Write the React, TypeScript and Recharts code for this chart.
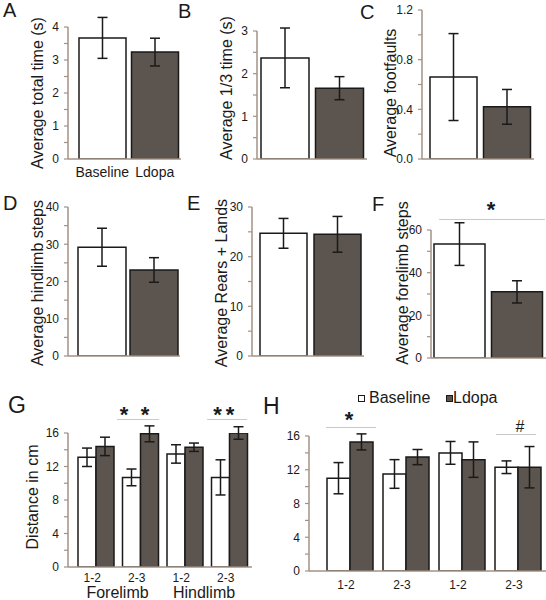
import React from 'react';
import { BarChart, Bar, XAxis, YAxis, ErrorBar, Cell } from 'recharts';

const FONT = '"Liberation Sans", Arial, Helvetica, sans-serif';
const AXIS = '#a39286';
const DARK = '#5c544e';
const INK = '#1a1a1a';
const SIG = '#c9c9c9';

// ---------- data ----------
const conditions = ['Baseline', 'Ldopa'];
const conditionFills = ['#ffffff', DARK];

const totalTime = [3.67, 3.24];
const totalTimeErr = [0.62, 0.42];

const thirdTime = [2.37, 1.66];
const thirdTimeErr = [0.7, 0.27];

const footfaults = [0.66, 0.42];
const footfaultsErr = [0.35, 0.14];

const hindlimbSteps = [29.2, 23.1];
const hindlimbStepsErr = [5.1, 3.3];

const rearsLands = [24.7, 24.5];
const rearsLandsErr = [3.0, 3.6];

const forelimbSteps = [53.4, 31.0];
const forelimbStepsErr = [10.0, 5.2];

const intervals = ['1-2', '2-3', '1-2', '2-3'];
const limbGroups = ['Forelimb', 'Forelimb', 'Hindlimb', 'Hindlimb'];

const gBaseline = [13.1, 10.7, 13.5, 10.7];
const gBaselineErr = [1.1, 1.0, 1.1, 2.1];
const gLdopa = [14.4, 15.9, 14.3, 16.0];
const gLdopaErr = [1.1, 0.95, 0.5, 0.75];

const hBaseline = [11.0, 11.5, 14.0, 12.3];
const hBaselineErr = [1.85, 1.7, 1.35, 0.75];
const hLdopa = [15.3, 13.5, 13.2, 12.3];
const hLdopaErr = [0.95, 0.9, 2.1, 2.45];

const pairData = (vals: number[], errs: number[]) =>
  conditions.map((name, i) => ({ name, value: vals[i], err: errs[i] }));

const groupData = (b: number[], be: number[], l: number[], le: number[]) =>
  intervals.map((iv, i) => ({
    name: `${limbGroups[i]} ${iv}`,
    interval: iv,
    baseline: b[i],
    baselineErr: be[i],
    ldopa: l[i],
    ldopaErr: le[i],
  }));

const range = (max: number, step: number) => {
  const out: number[] = [];
  for (let i = 0; i <= Math.round(max / step); i++) out.push(+(i * step).toFixed(4));
  return out;
};

// ---------- helpers ----------
const YW = 40;
const XH = 25;

type Box = { x: number; y: number; w: number; h: number };

type PanelProps = {
  box: Box;
  axisX: number;
  plotRight: number;
  yTop: number;
  yZero: number;
  padLeft: number;
  max: number;
  minorStep: number;
  majorStep: number;
  decimals?: number;
  data: any[];
  xTick?: any;
  xTickMargin?: number;
  barGap?: number;
  children: React.ReactNode;
};

const makeYTick = (majorStep: number, decimals: number) => (props: any) => {
  const { x, y, payload } = props;
  const v = payload.value;
  const r = v / majorStep;
  if (Math.abs(r - Math.round(r)) > 1e-6) return <g />;
  return (
    <text x={x} y={y} dy="0.36em" textAnchor="end" fontSize={12} fill={INK} fontFamily={FONT}>
      {v.toFixed(decimals)}
    </text>
  );
};

function Panel(p: PanelProps) {
  const margin = {
    left: p.axisX - p.box.x - YW,
    right: p.box.x + p.box.w - p.plotRight,
    top: p.yTop - p.box.y,
    bottom: p.box.y + p.box.h - p.yZero - XH,
  };
  return (
    <div style={{ position: 'absolute', left: p.box.x, top: p.box.y, width: p.box.w, height: p.box.h }}>
      <BarChart width={p.box.w} height={p.box.h} data={p.data} margin={margin} barGap={p.barGap ?? 0}>
        <XAxis
          dataKey="name"
          type="category"
          height={XH}
          padding={{ left: p.padLeft, right: 0 }}
          axisLine={{ stroke: AXIS, strokeWidth: 1.5 }}
          tickLine={false}
          interval={0}
          tickMargin={p.xTickMargin ?? 2}
          tick={p.xTick ?? false}
        />
        <YAxis
          type="number"
          width={YW}
          domain={[0, p.max]}
          allowDataOverflow
          ticks={range(p.max, p.minorStep)}
          interval={0}
          axisLine={{ stroke: AXIS, strokeWidth: 1.5 }}
          tickLine={{ stroke: AXIS, strokeWidth: 1.2 }}
          tickSize={4}
          tickMargin={5}
          tick={makeYTick(p.majorStep, p.decimals ?? 0)}
        />
        {p.children}
      </BarChart>
    </div>
  );
}

const pairBar = (data: any[], barSize: number) => (
  <Bar dataKey="value" barSize={barSize} stroke={INK} strokeWidth={1.5} isAnimationActive={false}>
    {data.map((d, i) => (
      <Cell key={d.name} fill={conditionFills[i]} />
    ))}
    <ErrorBar dataKey="err" width={5} stroke={INK} strokeWidth={1.5} direction="y" />
  </Bar>
);

const groupBars = (barSize: number) => [
  <Bar key="b" dataKey="baseline" name="Baseline" barSize={barSize} fill="#ffffff" stroke={INK} strokeWidth={1.5} isAnimationActive={false}>
    <ErrorBar dataKey="baselineErr" width={5} stroke={INK} strokeWidth={1.5} direction="y" />
  </Bar>,
  <Bar key="l" dataKey="ldopa" name="Ldopa" barSize={barSize} fill={DARK} stroke={INK} strokeWidth={1.5} isAnimationActive={false}>
    <ErrorBar dataKey="ldopaErr" width={5} stroke={INK} strokeWidth={1.5} direction="y" />
  </Bar>,
];

const conditionTick = (props: any) => {
  const { x, y, payload } = props;
  return (
    <text x={x} y={y} dy="0.71em" textAnchor="middle" fontSize={14} fill={INK} fontFamily={FONT}>
      {payload.value}
    </text>
  );
};

const makeIntervalTick = (data: any[]) => (props: any) => {
  const { x, y, index } = props;
  return (
    <text x={x - 4} y={y} dy="0.71em" textAnchor="middle" fontSize={12} fill={INK} fontFamily={FONT}>
      {data[index]?.interval}
    </text>
  );
};

// HTML text helpers (cy = visual centre of capitals)
const T = ({ x, cy, fs, children, anchor = 'middle', weight = 400, k = 0.4885 }: any) => (
  <div
    style={{
      position: 'absolute',
      left: x,
      top: cy - k * fs,
      fontSize: fs,
      lineHeight: 1,
      fontWeight: weight,
      whiteSpace: 'nowrap',
      color: INK,
      transform: anchor === 'middle' ? 'translateX(-50%)' : anchor === 'end' ? 'translateX(-100%)' : undefined,
    }}
  >
    {children}
  </div>
);

const VLabel = ({ cx, cy, children }: any) => (
  <div
    style={{
      position: 'absolute',
      left: cx,
      top: cy,
      fontSize: 16,
      lineHeight: 1,
      whiteSpace: 'nowrap',
      color: INK,
      transform: 'translate(-50%, -50%) rotate(-90deg)',
    }}
  >
    {children}
  </div>
);

const SigLine = ({ x1, x2, y }: any) => (
  <div style={{ position: 'absolute', left: x1, top: y, width: x2 - x1, height: 1, background: SIG }} />
);

const Star = ({ x, cy }: any) => (
  <T x={x} cy={cy} fs={22} weight={700} k={0.2665}>
    *
  </T>
);

export default function App() {
  const dA = pairData(totalTime, totalTimeErr);
  const dB = pairData(thirdTime, thirdTimeErr);
  const dC = pairData(footfaults, footfaultsErr);
  const dD = pairData(hindlimbSteps, hindlimbStepsErr);
  const dE = pairData(rearsLands, rearsLandsErr);
  const dF = pairData(forelimbSteps, forelimbStepsErr);
  const dG = groupData(gBaseline, gBaselineErr, gLdopa, gLdopaErr);
  const dH = groupData(hBaseline, hBaselineErr, hLdopa, hLdopaErr);

  return (
    <div
      style={{
        position: 'absolute',
        left: 0,
        top: 0,
        width: 546,
        height: 600,
        overflow: 'hidden',
        background: '#ffffff',
        fontFamily: FONT,
      }}
    >
      <Panel box={{ x: 0, y: 0, w: 190, h: 195 }} axisX={68} plotRight={181} yTop={27} yZero={159} padLeft={8}
        max={4} minorStep={0.5} majorStep={1} data={dA} xTick={conditionTick} xTickMargin={2}>
        {pairBar(dA, 47)}
      </Panel>
      <Panel box={{ x: 185, y: 0, w: 185, h: 195 }} axisX={257} plotRight={367} yTop={31} yZero={159} padLeft={1}
        max={3} minorStep={0.5} majorStep={1} data={dB}>
        {pairBar(dB, 48)}
      </Panel>
      <Panel box={{ x: 375, y: 0, w: 171, h: 195 }} axisX={422} plotRight={534} yTop={10} yZero={159} padLeft={5}
        max={1.2} minorStep={0.2} majorStep={0.4} decimals={1} data={dC}>
        {pairBar(dC, 47)}
      </Panel>
      <Panel box={{ x: 0, y: 190, w: 190, h: 200 }} axisX={68} plotRight={180} yTop={207} yZero={356} padLeft={8}
        max={40} minorStep={5} majorStep={10} data={dD}>
        {pairBar(dD, 48)}
      </Panel>
      <Panel box={{ x: 185, y: 190, w: 185, h: 200 }} axisX={252} plotRight={364} yTop={207} yZero={356} padLeft={4}
        max={30} minorStep={5} majorStep={10} data={dE}>
        {pairBar(dE, 47)}
      </Panel>
      <Panel box={{ x: 375, y: 190, w: 171, h: 200 }} axisX={431} plotRight={546} yTop={230} yZero={358} padLeft={0}
        max={60} minorStep={10} majorStep={20} data={dF}>
        {pairBar(dF, 51)}
      </Panel>
      <Panel box={{ x: 0, y: 390, w: 260, h: 210 }} axisX={68} plotRight={252} yTop={433} yZero={567} padLeft={6}
        max={16} minorStep={2} majorStep={4} data={dG} xTick={makeIntervalTick(dG)} xTickMargin={0}>
        {groupBars(18)}
      </Panel>
      <Panel box={{ x: 265, y: 390, w: 281, h: 210 }} axisX={309} plotRight={546} yTop={436} yZero={571} padLeft={13}
        max={16} minorStep={2} majorStep={4} data={dH} xTick={makeIntervalTick(dH)} xTickMargin={3}>
        {groupBars(23)}
      </Panel>

      {/* panel letters */}
      <T x={3} cy={10} fs={20} anchor="start">A</T>
      <T x={178} cy={11} fs={20} anchor="start">B</T>
      <T x={360} cy={11.5} fs={20} anchor="start">C</T>
      <T x={3} cy={203} fs={20} anchor="start">D</T>
      <T x={187} cy={203} fs={20} anchor="start">E</T>
      <T x={372} cy={204} fs={20} anchor="start">F</T>
      <T x={8} cy={405} fs={23} anchor="start">G</T>
      <T x={263} cy={406} fs={23} anchor="start">H</T>

      {/* axis titles */}
      <VLabel cx={38} cy={93}>Average total time (s)</VLabel>
      <VLabel cx={227} cy={88}>Average 1/3 time (s)</VLabel>
      <VLabel cx={391} cy={93}>Average footfaults</VLabel>
      <VLabel cx={38} cy={283}>Average hindlimb steps</VLabel>
      <VLabel cx={222} cy={283}>Average Rears + Lands</VLabel>
      <VLabel cx={403} cy={283}>Average forelimb steps</VLabel>
      <VLabel cx={33} cy={497}>Distance in cm</VLabel>

      {/* group labels */}
      <T x={117.5} cy={593} fs={16}>Forelimb</T>
      <T x={204} cy={593} fs={16}>Hindlimb</T>

      {/* significance */}
      <SigLine x1={439} x2={545} y={219} />
      <Star x={491} cy={205} />
      <SigLine x1={117} x2={159} y={419} />
      <Star x={124} cy={410} />
      <Star x={145} cy={410} />
      <SigLine x1={207} x2={247} y={419} />
      <Star x={217.5} cy={410} />
      <Star x={230} cy={410} />
      <SigLine x1={326} x2={376} y={427} />
      <Star x={349} cy={415} />
      <SigLine x1={496} x2={536} y={434} />
      <T x={520} cy={427} fs={16} k={0.5065}>#</T>

      {/* legend */}
      <div style={{ position: 'absolute', left: 358, top: 395, width: 5, height: 5, border: `1px solid ${INK}`, background: '#fff' }} />
      <T x={369} cy={398} fs={16} anchor="start">Baseline</T>
      <div style={{ position: 'absolute', left: 446, top: 395, width: 5, height: 5, border: `1px solid ${INK}`, background: DARK }} />
      <T x={453} cy={398} fs={16} anchor="start">Ldopa</T>
    </div>
  );
}
